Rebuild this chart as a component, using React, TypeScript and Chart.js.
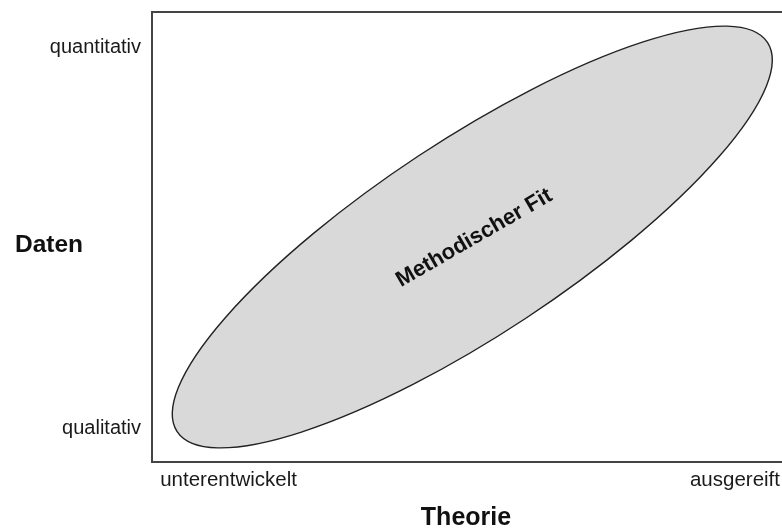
import { useEffect, useRef } from "react";
import { Chart, registerables } from "chart.js";

Chart.register(...registerables);

// ---- data ----
const xTickValues = [0.13, 10];
const xTickLabels = ["unterentwickelt", "ausgereift"];
const yTickValues = [0.9, 11.05];
const yTickLabels = ["qualitativ", "quantitativ"];
const xAxisTitle = "Theorie";
const yAxisTitle = "Daten";
const fitLabel = "Methodischer Fit";
// ellipse in data units: centre, end of major semi-axis, end of minor semi-axis
const fitCenter = [5.1, 6.0];
const fitMajorEnd = [9.8, 11.19];
const fitMinorEnd = [5.95, 3.83];

const FONT = "'Liberation Sans', Arial, sans-serif";

const diagramPlugin = {
  id: "diagram",
  beforeDatasetsDraw(chart: any) {
    const { ctx, chartArea, scales } = chart;
    const xs = scales.x;
    const ys = scales.y;
    const cx = xs.getPixelForValue(fitCenter[0]);
    const cy = ys.getPixelForValue(fitCenter[1]);
    const mx = xs.getPixelForValue(fitMajorEnd[0]) - cx;
    const my = ys.getPixelForValue(fitMajorEnd[1]) - cy;
    const nx = xs.getPixelForValue(fitMinorEnd[0]) - cx;
    const ny = ys.getPixelForValue(fitMinorEnd[1]) - cy;
    const a = Math.hypot(mx, my);
    const b = Math.hypot(nx, ny);
    const ang = Math.atan2(my, mx);
    ctx.save();
    ctx.beginPath();
    ctx.ellipse(cx, cy, a, b, ang, 0, Math.PI * 2);
    ctx.fillStyle = "#d9d9d9";
    ctx.fill();
    ctx.lineWidth = 1.4;
    ctx.strokeStyle = "#222";
    ctx.stroke();

    // label inside ellipse
    ctx.translate(cx + 2, cy + 1);
    ctx.rotate((-30 * Math.PI) / 180);
    ctx.font = `bold 22px ${FONT}`;
    ctx.fillStyle = "#111";
    ctx.textAlign = "center";
    ctx.textBaseline = "middle";
    ctx.fillText(fitLabel, 0, 0);
    ctx.restore();

    // y axis title (horizontal)
    ctx.save();
    ctx.font = `bold 24.5px ${FONT}`;
    ctx.fillStyle = "#111";
    ctx.textAlign = "left";
    ctx.textBaseline = "alphabetic";
    ctx.fillText(yAxisTitle, chartArea.left - 137, (chartArea.top + chartArea.bottom) / 2 + 15);
    ctx.restore();
  },
  afterDraw(chart: any) {
    const { ctx, chartArea, width } = chart;
    ctx.save();
    ctx.strokeStyle = "#444";
    ctx.lineWidth = 2;
    ctx.beginPath();
    ctx.moveTo(width, chartArea.top);
    ctx.lineTo(chartArea.left, chartArea.top);
    ctx.lineTo(chartArea.left, chartArea.bottom);
    ctx.lineTo(width, chartArea.bottom);
    ctx.stroke();
    ctx.restore();
  },
};

export default function App() {
  const ref = useRef<HTMLCanvasElement | null>(null);
  useEffect(() => {
    if (!ref.current) return;
    const chart = new Chart(ref.current, {
      type: "scatter",
      data: { datasets: [{ data: [], pointRadius: 0 }] },
      options: {
        animation: false,
        responsive: true,
        maintainAspectRatio: false,
        layout: { padding: { left: 0, top: 12, right: 2, bottom: 0 } },
        plugins: { legend: { display: false }, tooltip: { enabled: false } },
        scales: {
          x: {
            type: "linear",
            min: 0,
            max: 10,
            grid: { display: false, drawTicks: false },
            border: { display: false },
            afterBuildTicks: (s: any) => {
              s.ticks = xTickValues.map((v) => ({ value: v }));
            },
            afterFit: (s: any) => {
              s.height = 69;
              s.paddingLeft = 0;
              s.paddingRight = 0;
            },
            ticks: {
              align: "inner",
              autoSkip: false,
              maxRotation: 0,
              padding: 6,
              color: "#1a1a1a",
              font: { family: FONT, size: 20.5 },
              callback: (v: any) => xTickLabels[xTickValues.indexOf(Number(v))] ?? "",
            },
            title: {
              display: true,
              text: xAxisTitle,
              color: "#111",
              font: { family: FONT, size: 25, weight: "bold", lineHeight: 1 },
              padding: { top: 0, bottom: 0 },
            },
          },
          y: {
            type: "linear",
            min: 0,
            max: 12,
            grid: { display: false, drawTicks: false },
            border: { display: false },
            afterBuildTicks: (s: any) => {
              s.ticks = yTickValues.map((v) => ({ value: v }));
            },
            afterFit: (s: any) => {
              s.width = 152;
              s.paddingTop = 0;
              s.paddingBottom = 0;
            },
            ticks: {
              autoSkip: false,
              padding: 11,
              color: "#1a1a1a",
              font: { family: FONT, size: 20 },
              callback: (v: any) => yTickLabels[yTickValues.indexOf(Number(v))] ?? "",
            },
          },
        },
      },
      plugins: [diagramPlugin],
    } as any);
    return () => chart.destroy();
  }, []);
  return (
    <div style={{ position: "fixed", left: 0, top: 0, width: 782, height: 531, background: "#fff" }}>
      <canvas ref={ref} />
    </div>
  );
}
